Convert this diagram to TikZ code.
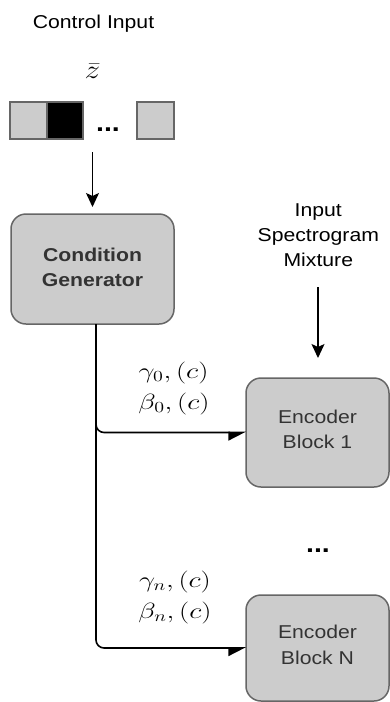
\RequirePackage{fix-cm}
\documentclass[tikz,border=0pt]{standalone}
\usepackage{fontspec}
\setmainfont{Liberation Sans}[FakeStretch=1.14]
\usepackage{graphicx}
\usetikzlibrary{arrows.meta}
\definecolor{boxfill}{HTML}{CCCCCC}
\definecolor{boxline}{HTML}{666666}
\definecolor{txtgray}{HTML}{333333}
\newcommand{\mlab}[1]{\scalebox{1.3}[1]{$#1$}}
\begin{document}
\begin{tikzpicture}[x=1pt,y=-1pt,
  every node/.style={inner sep=0pt, outer sep=0pt},
  plain/.style={font=\fontsize{18.6}{25}\selectfont, align=center, text=black},
  block/.style={draw=boxline, line width=1.5pt, fill=boxfill, rounded corners=15pt,
    font=\fontsize{18.6}{25.5}\selectfont, text=txtgray, align=center},
  cell/.style={draw=boxline, line width=1.8pt, minimum width=36.5pt, minimum height=37pt},
  dots/.style={font=\fontsize{25}{30}\selectfont\bfseries, text=black},
  mathlbl/.style={font=\fontsize{22}{26}\selectfont},
  varrow/.style={line width=1.5pt, draw=black, -{Stealth[length=14pt,width=13pt,inset=3pt]}},
  harrow/.style={line width=1.6pt, draw=black, rounded corners=8pt,
    -{Triangle[harpoon,swap,length=16pt,width=16pt]}}
]
\useasboundingbox (0,0) rectangle (390,702);

% control input
\node[plain, anchor=base] (ctl) at (93.5,28.3) {Control Input};
\node[font=\fontsize{26}{30}\selectfont, anchor=base] (zbar) at (92.5,78) {\scalebox{1.2}[1]{$\bar{z}$}};
\node[cell, fill=boxfill] (sq1) at (28.5,120.5) {};
\node[cell, fill=black] (sq2) at (65,120.5) {};
\node[cell, fill=boxfill] (sq3) at (155.5,120.5) {};
\node[dots, anchor=base] (d1) at (108,131) {...};
\coordinate (zsrc) at (92.5,152);

% condition generator
\node[block, font=\fontsize{18.6}{25}\selectfont\bfseries, minimum width=163pt, minimum height=110pt]
  (cg) at (92.5,269) {Condition\\Generator\rule[-3.6pt]{0pt}{0pt}};
\draw[varrow] (zsrc) -- ([yshift=7pt]cg.north);

% spectrogram input
\node[plain] (spec) at (318.3,235) {Input\\Spectrogram\\Mixture};
\coordinate (specout) at (318,287);

% encoder blocks
\node[block, minimum width=143pt, minimum height=109pt] (enc1) at (317.5,432.5)
  {Encoder\\Block 1\rule[-6pt]{0pt}{0pt}};
\node[block, minimum width=143pt, minimum height=106pt] (encN) at (317.5,648)
  {Encoder\\Block N\rule[-6pt]{0pt}{0pt}};
\node[dots, anchor=base] (d2) at (318,552) {...};
\coordinate (spectip) at ([yshift=20pt]enc1.north);
\draw[varrow] (specout) -- (specout |- spectip);

% connectors
\draw[harrow] ([xshift=3.5pt]cg.south) |- (enc1.west);
\draw[harrow] ([xshift=3.5pt]cg.south) |- (encN.west);

% labels
\node[mathlbl] (g0) at (173.5,373) {\mlab{\gamma_0, (c)}};
\node[mathlbl] (b0) at (174,404) {\mlab{\beta_0, (c)}};
\node[mathlbl] (gn) at (175,582) {\mlab{\gamma_n, (c)}};
\node[mathlbl] (bn) at (175,612.5) {\mlab{\beta_n, (c)}};
\end{tikzpicture}
\end{document}
